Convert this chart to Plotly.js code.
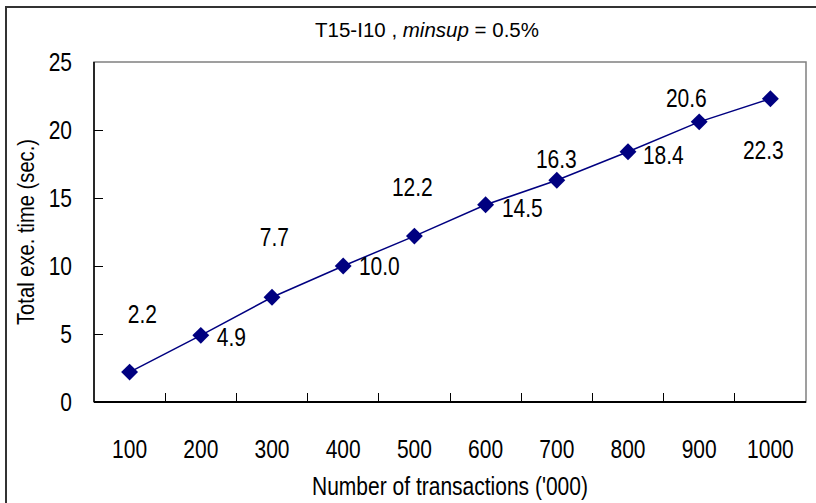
<!DOCTYPE html>
<html><head><meta charset="utf-8">
<script src="https://cdn.plot.ly/plotly-3.0.1.min.js"></script>
<style>
html,body{margin:0;padding:0;background:#fff;}
#wrap{position:relative;width:816px;height:503px;overflow:hidden;background:#fff;}
#chart{width:816px;height:503px;}
#frame{position:absolute;left:5px;top:6px;width:830px;height:520px;border-left:2px solid #333;border-top:2px solid #333;pointer-events:none;}
</style></head>
<body>
<div id="wrap"><div id="chart"></div><div id="frame"></div></div>
<script>
const categories = ["100","200","300","400","500","600","700","800","900","1000"];
const times = [2.2, 4.9, 7.7, 10.0, 12.2, 14.5, 16.3, 18.4, 20.6, 22.3];
const labelText = ["2.2","4.9","7.7","10.0","12.2","14.5","16.3","18.4","20.6","22.3"];
// label offsets (px) relative to each point
const labelDx = [13, 31, 2, 36, -2, 37, 0, 35, -13, -7];
const labelDy = [58, -2, 60, 0, 49, -3, 21, -3, 24, -51];

const FONT = "'Liberation Sans', Arial, sans-serif";
const NARROW = 0.84;   // condensing of text along its direction (narrow face)
const navy = "#000080";

const trace = {
  x: categories, y: times, type: "scatter", mode: "lines+markers",
  line: {color: navy, width: 1.5},
  marker: {symbol: "diamond", size: 13, color: navy},
  hoverinfo: "none", cliponaxis: false
};

const annotations = categories.map((c, i) => ({
  x: categories.indexOf(c), y: times[i], xref: "x", yref: "y", text: labelText[i], showarrow: false,
  xshift: labelDx[i], yshift: labelDy[i],
  font: {family: FONT, size: 25, color: "#000"}
}));

const shapes = [
  {type: "rect", xref: "paper", yref: "paper", x0: 0, x1: 1, y0: 0, y1: 1,
   line: {color: "#808080", width: 1.5}, fillcolor: "rgba(0,0,0,0)", layer: "below"},
  {type: "line", xref: "paper", yref: "paper", x0: 0, x1: 0, y0: 0, y1: 1, line: {color: "#000", width: 1.5}},
  {type: "line", xref: "paper", yref: "paper", x0: 0, x1: 1, y0: 0, y1: 0, line: {color: "#000", width: 2}}
];

const layout = {
  width: 816, height: 503,
  margin: {l: 94, r: 10, t: 62, b: 101, pad: 0},
  paper_bgcolor: "#fff", plot_bgcolor: "#fff",
  showlegend: false,
  font: {family: FONT, color: "#000"},
  title: {text: "T15-I10 , <i>minsup</i> = 0.5%", font: {family: FONT, size: 20.5, color: "#000"},
          xref: "container", x: 427/816, xanchor: "center", yref: "container", y: 1 - 30/503, yanchor: "middle"},
  xaxis: {
    type: "category", range: [-0.5, 9.5], tickmode: "array", tickvals: categories, ticktext: categories,
    showgrid: false, zeroline: false, showline: false,
    ticks: "", tickfont: {family: FONT, size: 25, color: "#000"}, ticklabelstandoff: 30,
    title: {text: "Number of transactions ('000)", font: {family: FONT, size: 25, color: "#000"}, standoff: 15}
  },
  yaxis: {
    range: [0, 25], dtick: 5, showgrid: false, zeroline: false, showline: false,
    ticks: "inside", ticklen: 9, tickcolor: "#000", tickwidth: 1,
    tickfont: {family: FONT, size: 25, color: "#000"}, ticklabelstandoff: 21,
    title: {text: "Total exe. time (sec.)", font: {family: FONT, size: 24, color: "#000"}, standoff: 2}
  },
  xaxis2: {overlaying: "x", range: [0, 10], showticklabels: false, showgrid: false,
    zeroline: false, ticks: "inside", ticklen: 9, tickcolor: "#000", tickvals: [1,2,3,4,5,6,7,8,9], anchor: "y"},
  shapes: shapes,
  annotations: annotations
};

const tickTrace = {x: [0, 10], y: [0, 0], xaxis: "x2", yaxis: "y", mode: "lines", line: {width: 0}, hoverinfo: "none"};

function condense(gd) {
  gd.querySelectorAll("svg text").forEach(t => {
    if (!t.textContent || t.classList.contains("gtitle")) return;
    const L = t.getComputedTextLength();
    if (L > 0) {
      t.setAttribute("textLength", (L * NARROW).toFixed(2));
      t.setAttribute("lengthAdjust", "spacingAndGlyphs");
    }
  });
}

Plotly.newPlot("chart", [tickTrace, trace], layout, {staticPlot: true}).then(condense);
</script>
</body></html>
